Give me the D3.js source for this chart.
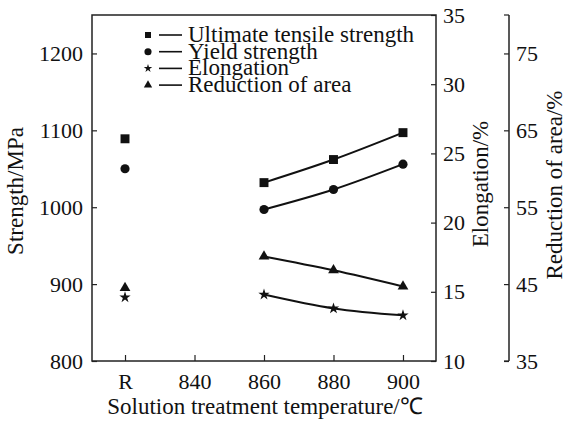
<!DOCTYPE html>
<html>
<head>
<meta charset="utf-8">
<script src="https://cdn.jsdelivr.net/npm/d3@7"></script>
<style>
  body { margin: 0; background: #fff; }
  svg { display: block; }
  text { font-family: "Liberation Serif", "Times New Roman", serif; fill: #111; }
</style>
</head>
<body>
<svg id="stage" width="567" height="421"></svg>
<script>
var svg = d3.select('#stage'),
    LEFT = 92,
    RIGHT = 436,
    TOP = 15,
    BOTTOM = 361,
    AXIS3 = 509,
    INK = '#222';

// tick categories on the x axis
var categories = ['R', '840', '860', '880', '900'];
// temperatures that carry a measurement
var temps = ['R', '860', '880', '900'];

var uts = [1089, 1032, 1062, 1097];     // MPa
var yieldStr = [1050, 997, 1023, 1056]; // MPa
var elongation = [14.6, 14.8, 13.8, 13.3]; // %
var reduction = [44.5, 48.6, 46.8, 44.7];  // %

var strengthTicks = [800, 900, 1000, 1100, 1200];
var elongTicks = [10, 15, 20, 25, 30, 35];
var reductionTicks = [35, 45, 55, 65, 75];

var x = d3.scalePoint().domain(categories).range([LEFT, RIGHT]).padding(0.475),
    yS = d3.scaleLinear().domain([800, 1250]).range([BOTTOM, TOP]),
    yE = d3.scaleLinear().domain([10, 35]).range([BOTTOM, TOP]),
    yR = d3.scaleLinear().domain([35, 80]).range([BOTTOM, TOP]);

function styleAxis(g, size) {
  g.select('.domain').remove();
  g.selectAll('line').attr('stroke', INK).attr('stroke-width', 1.2);
  g.selectAll('text')
    .style('font-size', size + 'px')
    .attr('fill', '#111');
}

// frame
svg.append('rect')
  .attr('x', LEFT).attr('y', TOP)
  .attr('width', RIGHT - LEFT).attr('height', BOTTOM - TOP)
  .attr('fill', 'none').attr('stroke', INK).attr('stroke-width', 1.5);

// left axis, ticks inside
svg.append('g')
  .attr('transform', 'translate(' + LEFT + ',0)')
  .call(d3.axisRight(yS).tickValues(strengthTicks).tickSize(5).tickFormat(d3.format('d')))
  .call(function (g) {
    styleAxis(g, 22);
    g.selectAll('text').attr('x', -9).attr('text-anchor', 'end');
  });

// bottom axis, ticks inside
svg.append('g')
  .attr('transform', 'translate(0,' + BOTTOM + ')')
  .call(d3.axisTop(x).tickSize(6))
  .call(function (g) {
    styleAxis(g, 22);
    g.selectAll('text').attr('y', 28).attr('dy', 0);
  });

// elongation axis on the right edge, ticks inside
svg.append('g')
  .attr('transform', 'translate(' + RIGHT + ',0)')
  .call(d3.axisLeft(yE).tickValues(elongTicks).tickSize(5))
  .call(function (g) {
    styleAxis(g, 22);
    g.selectAll('text').attr('x', 7).attr('text-anchor', 'start');
  });

// reduction axis, offset
svg.append('g')
  .attr('transform', 'translate(' + AXIS3 + ',0)')
  .call(d3.axisLeft(yR).tickValues(reductionTicks).tickSize(5))
  .call(function (g) {
    styleAxis(g, 22);
    g.selectAll('text').attr('x', 7).attr('text-anchor', 'start');
  });

svg.append('line')
  .attr('x1', AXIS3).attr('x2', AXIS3)
  .attr('y1', TOP).attr('y2', BOTTOM)
  .attr('stroke', INK).attr('stroke-width', 1.5);
svg.selectAll('.cap')
  .data([TOP, BOTTOM])
  .enter().append('line')
  .attr('x1', AXIS3 - 5).attr('x2', AXIS3)
  .attr('y1', function (d) { return d; })
  .attr('y2', function (d) { return d; })
  .attr('stroke', INK).attr('stroke-width', 1.2);

// axis titles
svg.append('text')
  .attr('transform', 'translate(23,191) rotate(-90)')
  .attr('text-anchor', 'middle')
  .style('font-size', '23px')
  .text('Strength/MPa');

svg.append('text')
  .attr('transform', 'translate(488,184) rotate(-90)')
  .attr('text-anchor', 'middle')
  .style('font-size', '23px')
  .text('Elongation/%');

svg.append('text')
  .attr('transform', 'translate(562,185) rotate(-90)')
  .attr('text-anchor', 'middle')
  .style('font-size', '23px')
  .text('Reduction of area/%');

svg.append('text')
  .attr('x', (LEFT + RIGHT) / 2 + 1)
  .attr('y', 414)
  .attr('text-anchor', 'middle')
  .style('font-size', '23px')
  .text('Solution treatment temperature/\u2103');

// series
var series = [
  { name: 'Ultimate tensile strength', values: uts, y: yS, symbol: d3.symbolSquare, size: 80, legendSize: 36 },
  { name: 'Yield strength', values: yieldStr, y: yS, symbol: d3.symbolCircle, size: 66, legendSize: 40 },
  { name: 'Elongation', values: elongation, y: yE, symbol: d3.symbolStar, size: 40, legendSize: 22 },
  { name: 'Reduction of area', values: reduction, y: yR, symbol: d3.symbolTriangle, size: 50, legendSize: 30 }
];

var line = d3.line()
  .x(function (d) { return x(d.t); })
  .y(function (d) { return d.py; })
  .curve(d3.curveMonotoneX);

series.forEach(function (s) {
  var pts = temps.map(function (t, i) {
    return { t: t, v: s.values[i], py: s.y(s.values[i]) };
  });

  svg.append('path')
    .datum(pts.filter(function (d) { return d.t !== 'R'; }))
    .attr('d', line)
    .attr('fill', 'none')
    .attr('stroke', '#111')
    .attr('stroke-width', 2);

  svg.selectAll(null)
    .data(pts)
    .enter().append('path')
    .attr('d', d3.symbol().type(s.symbol).size(s.size))
    .attr('transform', function (d) {
      return 'translate(' + [x(d.t), d.py] + ')';
    })
    .attr('fill', '#111');
});

// legend
var legend = svg.append('g').attr('transform', 'translate(148,35)');
var rows = legend.selectAll('g')
  .data(series)
  .enter().append('g')
  .attr('transform', function (d, i) { return 'translate(0,' + (i * 16.7) + ')'; });

rows.append('path')
  .attr('d', function (d) { return d3.symbol().type(d.symbol).size(d.legendSize)(); })
  .attr('fill', '#111');
rows.append('line')
  .attr('x1', 11).attr('x2', 34)
  .attr('y1', 0).attr('y2', 0)
  .attr('stroke', '#111').attr('stroke-width', 1.6);
rows.append('text')
  .attr('x', 40)
  .attr('y', 7)
  .style('font-size', '23px')
  .text(function (d) { return d.name; });
</script>
</body>
</html>
